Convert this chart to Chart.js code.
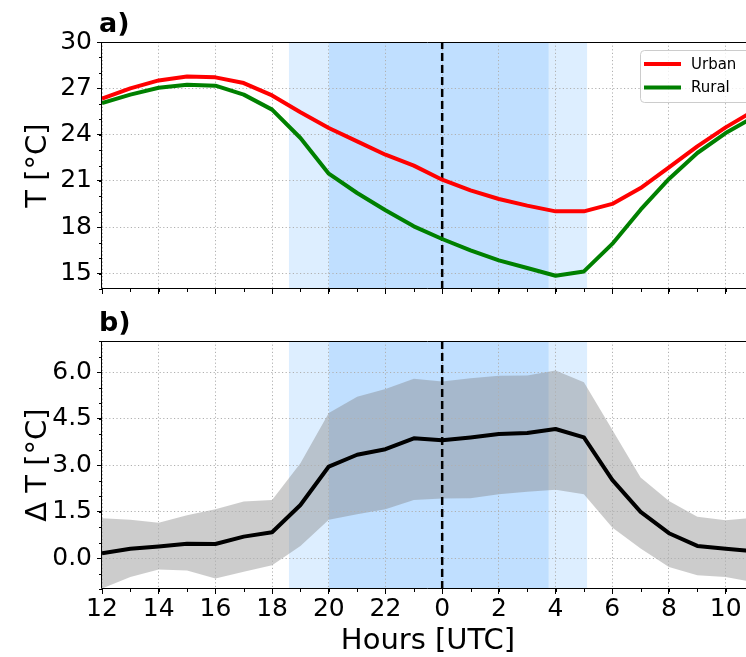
<!DOCTYPE html>
<html><head><meta charset="utf-8">
<script src="https://cdn.jsdelivr.net/npm/chart.js@4.4.1/dist/chart.umd.min.js"></script>
<style>
html,body{margin:0;padding:0;background:#fff;}
#wrap{position:relative;width:746px;height:657px;overflow:hidden;background:#fff;}
canvas{position:absolute;left:0;}
#c1{top:0;}
#c2{top:300px;}
</style></head><body>
<div id="wrap"><canvas id="c1" width="754" height="300"></canvas><canvas id="c2" width="754" height="357"></canvas></div>
<script>
// ---- data ----
const hours = [12,13,14,15,16,17,18,19,20,21,22,23,24,25,26,27,28,29,30,31,32,33,34,35];
const urban = [26.33,27.0,27.51,27.77,27.71,27.34,26.54,25.45,24.43,23.56,22.7,21.99,21.08,20.39,19.83,19.40,19.03,19.03,19.51,20.54,21.88,23.24,24.47,25.55];
const rural = [26.05,26.59,27.04,27.23,27.17,26.59,25.62,23.78,21.47,20.22,19.1,18.06,17.24,16.5,15.85,15.36,14.86,15.14,16.92,19.14,21.13,22.81,24.1,25.15];
const deltaMean = [0.15,0.30,0.37,0.46,0.45,0.69,0.83,1.71,2.95,3.33,3.51,3.86,3.80,3.89,4.00,4.03,4.16,3.89,2.52,1.49,0.80,0.39,0.30,0.22];
const deltaUpper = [1.28,1.23,1.14,1.38,1.57,1.82,1.875,3.06,4.68,5.2,5.45,5.78,5.69,5.80,5.88,5.89,6.05,5.67,4.14,2.6,1.84,1.33,1.22,1.30];
const deltaLower = [-0.98,-0.61,-0.37,-0.40,-0.66,-0.44,-0.23,0.39,1.23,1.41,1.57,1.875,1.92,1.93,2.06,2.14,2.2,2.06,0.98,0.31,-0.29,-0.56,-0.61,-0.78];
const twilight = [18.59, 29.12];
const night = [20.0, 27.76];
const midnight = 24;
const xTickValues = [12,14,16,18,20,22,24,26,28,30,32,34];
const xTickLabels = ['12','14','16','18','20','22','0','2','4','6','8','10'];
const tTicks = [15,18,21,24,27,30];
const tTickLabels = ['15','18','21','24','27','30'];
const dTicks = [0,1.5,3,4.5,6];
const dTickLabels = ['0.0','1.5','3.0','4.5','6.0'];
const xRange = [12, 35];
const tRange = [14, 30];
const dRange = [-1, 7];

Chart.defaults.font.family = "'DejaVu Sans', sans-serif";
Chart.defaults.color = '#000';

const pts = (ys) => hours.map((h, i) => ({x: h, y: ys[i]}));
const spanData = (s, r) => [{x: s[0], y: r[1]}, {x: s[1], y: r[1]}];
const vline = (x, r) => [{x: x, y: r[0]}, {x: x, y: r[1]}];
const NONE = 'rgba(0,0,0,0)';

function spanSets(r) {
  return [
    {label: '_night', data: spanData(night, r), borderColor: NONE, borderWidth: 0, backgroundColor: 'rgba(30,144,255,0.15)', fill: 'start', pointRadius: 0},
    {label: '_twilight', data: spanData(twilight, r), borderColor: NONE, borderWidth: 0, backgroundColor: 'rgba(30,144,255,0.15)', fill: 'start', pointRadius: 0}
  ];
}
function midnightSet(r) {
  return {label: '_midnight', data: vline(midnight, r), borderColor: '#000', borderWidth: 2.5, borderDash: [8, 4], fill: false, pointRadius: 0};
}

const minorTicks = {
  id: 'minorTicks',
  afterDraw(chart, args, opts) {
    const ctx = chart.ctx;
    const a = chart.chartArea;
    ctx.save();
    ctx.strokeStyle = '#000';
    ctx.lineWidth = 1;
    const xs = chart.scales.x, ys = chart.scales.y;
    for (let v = xs.min; v <= xs.max + 1e-9; v += opts.x) {
      const p = Math.round(xs.getPixelForValue(v)) + 0.5;
      ctx.beginPath(); ctx.moveTo(p, a.bottom); ctx.lineTo(p, a.bottom + 3); ctx.stroke();
    }
    for (let v = ys.min; v <= ys.max + 1e-9; v += opts.y) {
      const p = Math.round(ys.getPixelForValue(v)) + 0.5;
      ctx.beginPath(); ctx.moveTo(a.left, p); ctx.lineTo(a.left - 3, p); ctx.stroke();
    }
    // frame
    ctx.lineWidth = 1;
    ctx.strokeStyle = '#000';
    const l = Math.round(a.left) - 0.5, t = Math.round(a.top) + 0.5, b = Math.round(a.bottom) - 0.5, rr = Math.round(a.right) - 0.5;
    ctx.beginPath();
    ctx.moveTo(l, t); ctx.lineTo(rr, t); ctx.lineTo(rr, b); ctx.lineTo(l, b); ctx.closePath();
    ctx.stroke();
    // panel label
    ctx.font = 'bold 27px "DejaVu Sans"';
    ctx.fillStyle = '#000';
    ctx.textBaseline = 'alphabetic';
    ctx.textAlign = 'left';
    ctx.fillText(opts.label, 99, a.top - 10.5);
    ctx.restore();
  }
};

const legendBox = {
  id: 'legendBox',
  afterDraw(chart, args, opts) {
    if (!opts.show) return;
    const ctx = chart.ctx;
    const items = chart.data.datasets.filter(d => !d.label.startsWith('_'));
    const x0 = 640, y0 = 50, w = 110, h = 52;
    ctx.save();
    ctx.beginPath();
    if (ctx.roundRect) ctx.roundRect(x0 + 0.5, y0 + 0.5, w, h, 4); else ctx.rect(x0 + 0.5, y0 + 0.5, w, h);
    ctx.fillStyle = 'rgba(255,255,255,0.8)';
    ctx.fill();
    ctx.strokeStyle = '#cccccc';
    ctx.lineWidth = 1;
    ctx.stroke();
    ctx.font = '15px "DejaVu Sans"';
    ctx.textBaseline = 'middle';
    ctx.textAlign = 'left';
    items.forEach((d, i) => {
      const y = 64 + i * 23.5;
      ctx.strokeStyle = d.borderColor;
      ctx.lineWidth = 4;
      ctx.beginPath(); ctx.moveTo(644, y); ctx.lineTo(681, y); ctx.stroke();
      ctx.fillStyle = '#000';
      ctx.fillText(d.label, 691, y + 1);
    });
    ctx.restore();
  }
};

function makeChart(id, datasets, yCfg, showX, padTop, xHeight, label, showLegend) {
  const gridCfg = {color: '#b0b0b0', lineWidth: 1, tickLength: 5, tickColor: '#000', tickWidth: 1};
  const borderCfg = {display: false, dash: [1.2, 2.4]};
  return new Chart(document.getElementById(id), {
    type: 'line',
    data: {datasets},
    options: {
      responsive: false,
      animation: false,
      devicePixelRatio: 1,
      layout: {padding: {top: padTop, left: 0, right: 0, bottom: 0}},
      elements: {line: {tension: 0, borderJoinStyle: 'round', borderCapStyle: 'butt'}, point: {radius: 0}},
      plugins: {
        legend: {display: false},
        tooltip: {enabled: false},
        filler: {drawTime: 'beforeDraw'},
        minorTicks: {x: 1, y: yCfg.minor, label: label},
        legendBox: {show: showLegend}
      },
      scales: {
        x: {
          type: 'linear', min: xRange[0], max: xRange[1],
          afterBuildTicks: s => { s.ticks = xTickValues.map(v => ({value: v})); },
          ticks: {callback: (v, i) => showX ? xTickLabels[i] : '', font: {size: 25, lineHeight: 1.2}, color: '#000', padding: 0, maxRotation: 0, autoSkip: false},
          grid: gridCfg, border: borderCfg,
          title: showX ? {display: true, text: 'Hours [UTC]', color: '#000', font: {size: 29, lineHeight: 1}, padding: {top: 0, bottom: 1.5}} : {display: false},
          afterFit: s => { s.height = xHeight; s.paddingLeft = 0; s.paddingRight = 0; }
        },
        y: {
          type: 'linear', min: yCfg.range[0], max: yCfg.range[1],
          afterBuildTicks: s => { s.ticks = yCfg.ticks.map(v => ({value: v})); },
          ticks: {callback: (v, i) => yCfg.labels[i], font: {size: 25}, color: '#000', padding: 5, autoSkip: false},
          grid: gridCfg, border: borderCfg,
          title: {display: true, text: yCfg.title, color: '#000', font: {size: 29, lineHeight: 1}, padding: {top: 24, bottom: 0}},
          afterFit: s => { s.width = 102; s.paddingTop = 0; s.paddingBottom = 0; }
        }
      }
    },
    plugins: [minorTicks, legendBox]
  });
}

makeChart('c1', [
  {label: 'Urban', data: pts(urban), borderColor: '#ff0000', borderWidth: 4, fill: false},
  {label: 'Rural', data: pts(rural), borderColor: '#008000', borderWidth: 4, fill: false},
  midnightSet(tRange),
  ...spanSets(tRange)
], {range: tRange, ticks: tTicks, labels: tTickLabels, minor: 1, title: 'T [°C]'}, false, 42, 11, 'a)', true);

makeChart('c2', [
  {label: '_upper', data: pts(deltaUpper), borderColor: NONE, borderWidth: 0, backgroundColor: 'rgba(128,128,128,0.4)', fill: '+1'},
  {label: '_lower', data: pts(deltaLower), borderColor: NONE, borderWidth: 0, fill: false},
  {label: '_mean', data: pts(deltaMean), borderColor: '#000', borderWidth: 4, fill: false},
  midnightSet(dRange),
  ...spanSets(dRange)
], {range: dRange, ticks: dTicks, labels: dTickLabels, minor: 0.5, title: 'Δ T [°C]'}, true, 41, 68, 'b)', false);
</script>
</body></html>
